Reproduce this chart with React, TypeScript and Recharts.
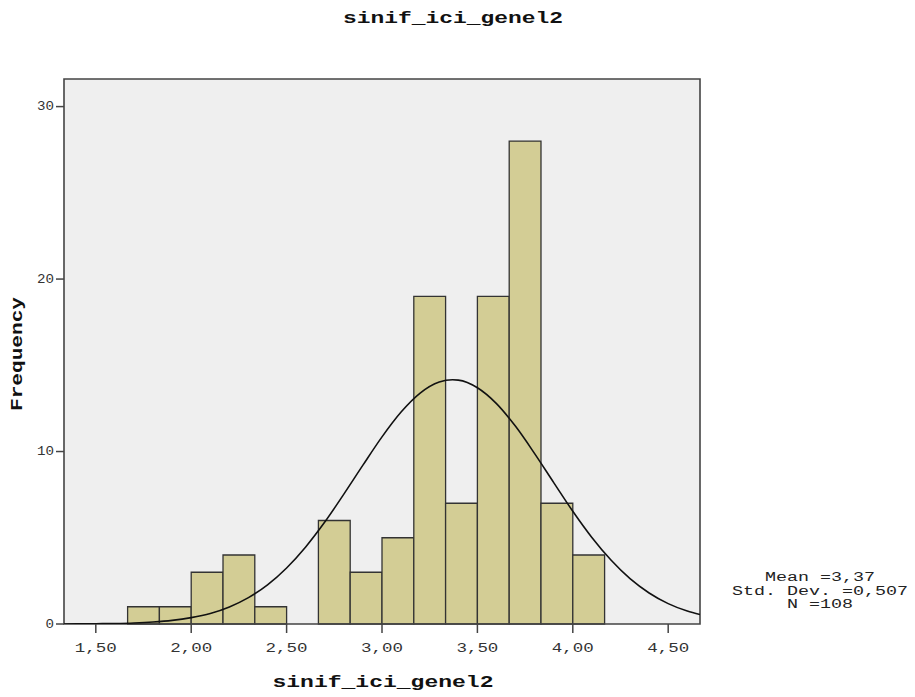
import React from "react";
import {
  ComposedChart,
  Line,
  XAxis,
  YAxis,
  CartesianGrid,
  ReferenceArea,
} from "recharts";

const TITLE = "sinif_ici_genel2";
const X_LABEL = "sinif_ici_genel2";
const Y_LABEL = "Frequency";

const binStarts = [1.6667, 1.8333, 2.0, 2.1667, 2.3333, 2.5, 2.6667, 2.8333, 3.0, 3.1667, 3.3333, 3.5, 3.6667, 3.8333, 4.0];
const binEnds = [1.8333, 2.0, 2.1667, 2.3333, 2.5, 2.6667, 2.8333, 3.0, 3.1667, 3.3333, 3.5, 3.6667, 3.8333, 4.0, 4.1667];
const counts = [1, 1, 3, 4, 1, 0, 6, 3, 5, 19, 7, 19, 28, 7, 4];

const curveX = [1.3333, 1.4, 1.5, 1.6, 1.7, 1.8, 1.9, 2.0, 2.1, 2.2, 2.3, 2.4, 2.5, 2.6, 2.7, 2.8, 2.9, 3.0, 3.1, 3.2, 3.3, 3.37, 3.4, 3.5, 3.6, 3.7, 3.8, 3.9, 4.0, 4.1, 4.2, 4.3, 4.4, 4.5, 4.6, 4.6667];
const curveY = [0.004, 0.008, 0.016, 0.032, 0.062, 0.117, 0.21, 0.37, 0.61, 0.99, 1.53, 2.27, 3.25, 4.47, 5.91, 7.53, 9.21, 10.85, 12.29, 13.39, 14.03, 14.16, 14.14, 13.7, 12.78, 11.46, 9.88, 8.2, 6.54, 5.02, 3.71, 2.63, 1.8, 1.18, 0.75, 0.55];

const xTicks = [1.5, 2.0, 2.5, 3.0, 3.5, 4.0, 4.5];
const yTicks = [0, 10, 20, 30];
const xDomain = [1.3333, 4.6667];
const yDomain = [0, 31.6];

const statLines = ["Mean =3,37", "Std. Dev. =0,507", "N =108"];

const curveData = curveX.map((x, i) => ({ x, y: curveY[i] }));

const FONT = "'Liberation Mono', 'Courier New', monospace";

const XTick = (props: any) => {
  const { x, y, payload } = props;
  const label = Number(payload.value).toFixed(2).replace(".", ",");
  return (
    <text
      x={x}
      y={y + 15}
      textAnchor="middle"
      dominantBaseline="central"
      fontFamily={FONT}
      fontSize={13}
      fill="#333"
      textLength={42}
      lengthAdjust="spacingAndGlyphs"
    >
      {label}
    </text>
  );
};

const YTick = (props: any) => {
  const { x, y, payload } = props;
  const label = String(payload.value);
  return (
    <text
      x={x - 2}
      y={y}
      textAnchor="end"
      dominantBaseline="central"
      fontFamily={FONT}
      fontSize={13}
      fill="#333"
      textLength={label.length * 8.5}
      lengthAdjust="spacingAndGlyphs"
    >
      {label}
    </text>
  );
};

export default function App() {
  const W = 899;
  const H = 681;
  return (
    <div style={{ padding: 8, width: W, height: H, background: "#fff" }}>
      <style>{"body{margin:0;}"}</style>
      <div style={{ position: "relative", width: W, height: H }}>
        <ComposedChart
          width={W}
          height={H}
          data={curveData}
          margin={{ top: 71, left: 16, right: 207, bottom: 25 }}
        >
          <CartesianGrid fill="#efefef" horizontal={false} vertical={false} />
          <XAxis
            type="number"
            dataKey="x"
            domain={xDomain}
            ticks={xTicks}
            allowDataOverflow
            axisLine={false}
            tickSize={9}
            tickMargin={0}
            tickLine={{ stroke: "#444", strokeWidth: 1.5 }}
            tick={<XTick />}
            height={40}
          />
          <YAxis
            type="number"
            domain={yDomain}
            ticks={yTicks}
            allowDataOverflow
            axisLine={false}
            tickSize={8}
            tickMargin={0}
            tickLine={{ stroke: "#444", strokeWidth: 1.5 }}
            tick={<YTick />}
            width={40}
          />
          {counts.map((c, i) =>
            c > 0 ? (
              <ReferenceArea
                key={i}
                x1={binStarts[i]}
                x2={binEnds[i]}
                y1={0}
                y2={c}
                fill="#d3cd95"
                fillOpacity={1}
                stroke="#333"
                strokeWidth={1.3}
                ifOverflow="visible"
              />
            ) : null
          )}
          <Line
            type="monotone"
            dataKey="y"
            stroke="#111"
            strokeWidth={1.6}
            dot={false}
            activeDot={false}
            isAnimationActive={false}
          />
          <ReferenceArea
            x1={xDomain[0]}
            x2={xDomain[1]}
            y1={yDomain[0]}
            y2={yDomain[1]}
            fill="none"
            fillOpacity={0}
            stroke="#444"
            strokeWidth={1.6}
            ifOverflow="visible"
          />
        </ComposedChart>
        <svg
          width={W}
          height={H}
          style={{ position: "absolute", left: 0, top: 0, overflow: "visible", pointerEvents: "none" }}
        >
          <text
            x={445}
            y={15}
            textAnchor="middle"
            fontFamily={FONT}
            fontWeight="bold"
            fontSize={17}
            fill="#111"
            textLength={220}
            lengthAdjust="spacingAndGlyphs"
          >
            {TITLE}
          </text>
          <text
            x={375}
            y={679}
            textAnchor="middle"
            fontFamily={FONT}
            fontWeight="bold"
            fontSize={17}
            fill="#111"
            textLength={221}
            lengthAdjust="spacingAndGlyphs"
          >
            {X_LABEL}
          </text>
          <text
            x={10}
            y={346}
            transform="rotate(-90 10 346)"
            textAnchor="middle"
            dominantBaseline="central"
            fontFamily={FONT}
            fontWeight="bold"
            fontSize={16}
            fill="#111"
            textLength={114}
            lengthAdjust="spacingAndGlyphs"
          >
            {Y_LABEL}
          </text>
          {statLines.map((s, i) => (
            <text
              key={i}
              x={812}
              y={570 + i * 13.5}
              textAnchor="middle"
              dominantBaseline="central"
              fontFamily={FONT}
              fontSize={12}
              fill="#222"
              textLength={s.length * 11}
              lengthAdjust="spacingAndGlyphs"
            >
              {s}
            </text>
          ))}
        </svg>
      </div>
    </div>
  );
}
